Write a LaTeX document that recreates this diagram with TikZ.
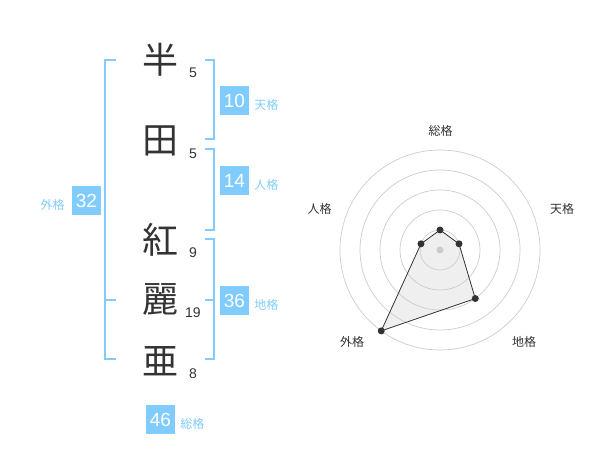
\documentclass[tikz,border=0pt]{standalone}
\usepackage{fontspec}
\setmainfont{Liberation Sans}
\newfontfamily\jpfont{Noto Sans CJK JP}
\usetikzlibrary{positioning, calc}
\definecolor{kakublue}{RGB}{128,204,255}
\definecolor{inkgray}{RGB}{51,51,51}
\definecolor{ringgray}{RGB}{204,204,204}
\definecolor{areagray}{RGB}{235,235,235}

\begin{document}
\begin{tikzpicture}[x=1pt,y=-1pt,
  kanji/.style={font=\jpfont\fontsize{36}{36}\selectfont, text=inkgray, inner sep=0pt},
  strokes/.style={font=\fontsize{14}{14}\selectfont, text=inkgray, inner sep=0pt},
  valbox/.style={fill=kakublue, text=white, minimum size=29pt, inner sep=0pt, font=\fontsize{19}{19}\selectfont},
  kakulabel/.style={font=\jpfont\fontsize{12}{12}\selectfont, text=kakublue, inner sep=0pt, yshift=-4pt},
  bracket/.style={draw=kakublue, line width=2pt},
  ring/.style={draw=ringgray, line width=0.7pt},
  axislabel/.style={font=\jpfont\fontsize{12}{12}\selectfont, text=inkgray, inner sep=0pt},
  dot/.style={circle, fill=inkgray, inner sep=0pt, minimum size=7pt}
]
\useasboundingbox (0,0) rectangle (600,470);

% Name characters and stroke counts
\foreach \ch/\y/\n/\s in {半/60/c1/5, 田/141/c2/5, 紅/240/c3/9, 麗/300/c4/19, 亜/361/c5/8} {
    \node[kanji] (\n) at (160,\y) {\ch};
    \node[strokes] (\n s) at (193,\y+13) {\s};
}

% Brackets
\draw[bracket] (116,60) -- (105,60) -- (105,359) -- (116,359);
\draw[bracket] (105,300) -- (116,300);
\draw[bracket] (205,60) -- (214,60) -- (214,139) -- (205,139);
\draw[bracket] (205,149) -- (214,149) -- (214,230) -- (205,230);
\draw[bracket] (205,239) -- (214,239) -- (214,359) -- (205,359);
\draw[bracket] (205,300) -- (214,300);

% Values
\node[valbox] (ten) at (234.5,100.5) {10};
\node[kakulabel, right=5pt of ten] (tenl) {天格};
\node[valbox] (jin) at (234.5,180.5) {14};
\node[kakulabel, right=5pt of jin] (jinl) {人格};
\node[valbox] (chi) at (234.5,300.5) {36};
\node[kakulabel, right=5pt of chi] (chil) {地格};
\node[valbox] (gai) at (86.5,200.5) {32};
\node[kakulabel, left=7pt of gai] (gail) {外格};
\node[valbox] (sou) at (160.5,419.5) {46};
\node[kakulabel, right=5pt of sou] (soul) {総格};

% Radar chart
\begin{scope}[shift={(440,250)}, y=1pt]
\coordinate (p1) at (90:20);
\coordinate (p2) at (18:20);
\coordinate (p3) at (-54:60);
\coordinate (p4) at (-126:100);
\coordinate (p5) at (162:20);
\fill[areagray, opacity=0.8] (p1) -- (p2) -- (p3) -- (p4) -- (p5) -- cycle;
\foreach \r in {20,40,...,100} {
    \draw[ring] (0,0) circle (\r pt);
}
\fill[ringgray] (0,0) circle (3.5pt);
\draw[inkgray, line width=0.8pt] (p1) -- (p2) -- (p3) -- (p4) -- (p5) -- cycle;
\foreach \i in {1,...,5} {
    \node[dot] (d\i) at (p\i) {};
}
\node[axislabel] (lsou) at (0.5,119.5) {総格};
\node[axislabel] (lten) at (122,41.5) {天格};
\node[axislabel] (lchi) at (84,-91.7) {地格};
\node[axislabel] (lgai) at (-88,-92) {外格};
\node[axislabel] (ljin) at (-120.5,41.5) {人格};
\end{scope}
\end{tikzpicture}
\end{document}
